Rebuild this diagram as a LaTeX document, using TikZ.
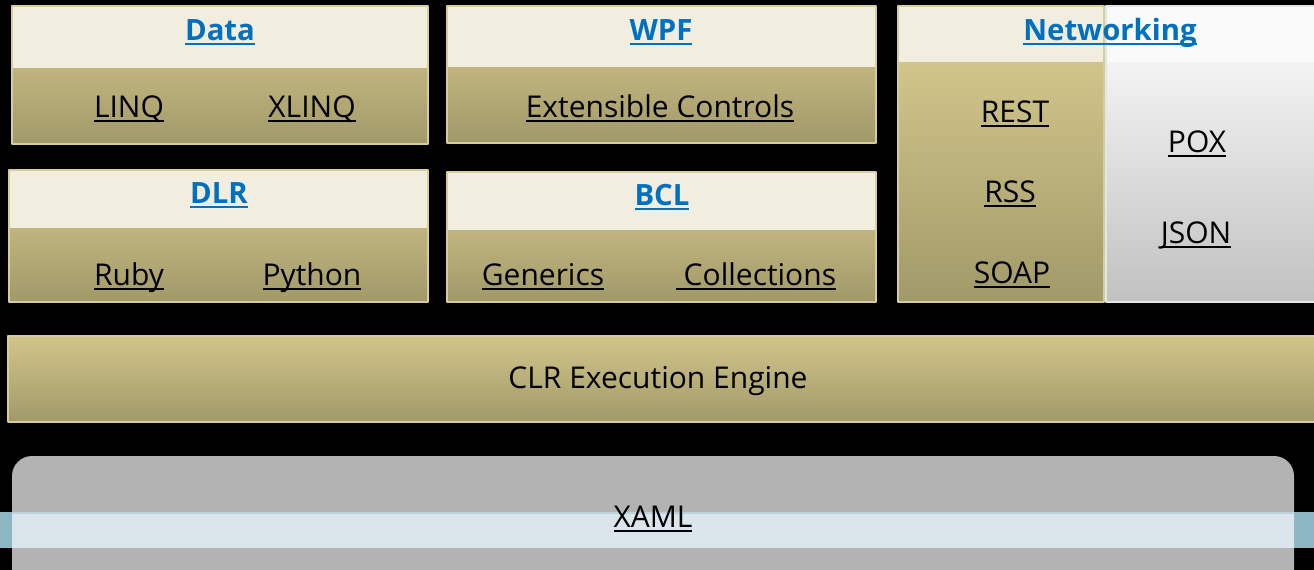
\documentclass[tikz,border=0pt]{standalone}
\usepackage{fontspec}
\setmainfont{Open Sans}
\definecolor{head}{HTML}{F1EEE0}
\definecolor{tantop}{HTML}{C0B57F}
\definecolor{tanbot}{HTML}{A19969}
\definecolor{clrtop}{HTML}{D1C58A}
\definecolor{edge}{HTML}{D6CD9E}
\definecolor{greyhead}{HTML}{FAFAFA}
\definecolor{greytop}{HTML}{F3F3F3}
\definecolor{greybot}{HTML}{C1C1C1}
\definecolor{xamlbox}{HTML}{B3B3B3}
\definecolor{bandin}{HTML}{DAE6EC}
\definecolor{bandout}{HTML}{8DB6C3}
\definecolor{link}{HTML}{0070C0}
\tikzset{
  HeadBand/.style={fill=head},
  BodyBand/.style={top color=tantop, bottom color=tanbot},
  Frame/.style={draw=edge, line width=1.5pt},
  Item/.style={font=\fontsize{30}{35}\selectfont, text=black, anchor=base, inner sep=0pt},
  Title/.style={font=\fontsize{29.3}{34}\selectfont\bfseries, text=link, anchor=base, inner sep=0pt}
}
\newcommand{\Underlined}[1]{%
  % #1 = text, underlined in the current colour
  \setbox0\hbox{#1}%
  \rlap{\vrule width\wd0 height -2.5pt depth 4.5pt}\box0}

\begin{document}
\begin{tikzpicture}[x=1pt, y=1pt, line join=round]
  \useasboundingbox (0,0) rectangle (1314,-570);
  \clip (0,0) rectangle (1314,-570);
  \fill[black] (0,0) rectangle (1314,-570);

  % Data
  \path[BodyBand] (12,-68) rectangle (428,-144);
  \path[HeadBand] (12,-6) rectangle (428,-68);
  \draw[Frame] (12,-6) rectangle (428,-144);
  % WPF
  \path[BodyBand] (447,-67) rectangle (876,-143);
  \path[HeadBand] (447,-6) rectangle (876,-67);
  \draw[Frame] (447,-6) rectangle (876,-143);
  % DLR
  \path[BodyBand] (9,-228) rectangle (428,-302);
  \path[HeadBand] (9,-170) rectangle (428,-228);
  \draw[Frame] (9,-170) rectangle (428,-302);
  % BCL
  \path[BodyBand] (447,-230) rectangle (876,-302);
  \path[HeadBand] (447,-172) rectangle (876,-230);
  \draw[Frame] (447,-172) rectangle (876,-302);
  % Networking, tan and grey halves
  \path[top color=clrtop, bottom color=tanbot] (898,-62) rectangle (1104,-302);
  \path[HeadBand] (898,-6) rectangle (1104,-62);
  \draw[Frame] (898,-6) rectangle (1104,-302);
  \path[top color=greytop, bottom color=greybot] (1106,-62) rectangle (1316,-302);
  \path[fill=greyhead] (1106,-6) rectangle (1316,-62);
  \draw[draw=white!90!black, line width=1.5pt] (1106,-6) rectangle (1316,-302);
  % CLR
  \path[top color=clrtop, bottom color=tanbot] (8,-336) rectangle (1316,-422);
  \draw[Frame] (8,-336) rectangle (1316,-422);
  % XAML
  \fill[bandout] (0,-512) rectangle (1314,-548);
  \fill[xamlbox, rounded corners=20pt] (12,-456) rectangle (1294,-610);
  \begin{scope}
    \clip[rounded corners=20pt] (12,-456) rectangle (1294,-610);
    \fill[bandin] (0,-512) rectangle (1314,-548);
    \draw[bandout!40!bandin, line width=2pt] (0,-513) -- (1314,-513);
  \end{scope}

  % titles
  \node[Title] (data) at (220,-40) {\Underlined{Data}};
  \node[Title] (wpf) at (661,-40) {\Underlined{WPF}};
  \node[Title] (dlr) at (219,-203) {\Underlined{DLR}};
  \node[Title] (bcl) at (662,-205) {\Underlined{BCL}};
  \node[Title] (net) at (1110,-40) {\Underlined{Networking}};

  % items
  \node[Item] (linq) at (129,-117) {\Underlined{LINQ}};
  \node[Item] (xlinq) at (312,-117) {\Underlined{XLINQ}};
  \node[Item] (extctl) at (660,-117) {\Underlined{Extensible Controls}};
  \node[Item] (ruby) at (129,-285) {\Underlined{Ruby}};
  \node[Item] (python) at (312,-285) {\Underlined{Python}};
  \node[Item] (generics) at (543,-285) {\Underlined{Generics}};
  \node[Item] (collect) at (756,-285) {\Underlined{\ Collections}};
  \node[Item] (rest) at (1015,-122) {\Underlined{REST}};
  \node[Item] (rss) at (1010,-202) {\Underlined{RSS}};
  \node[Item] (soap) at (1012,-283) {\Underlined{SOAP}};
  \node[Item] (pox) at (1197,-152) {\Underlined{POX}};
  \node[Item] (json) at (1196,-243) {\Underlined{JSON}};
  \node[Item] (clr) at (658,-388) {CLR Execution Engine};
  \node[Item] (xaml) at (653,-527) {\Underlined{XAML}};
\end{tikzpicture}
\end{document}
